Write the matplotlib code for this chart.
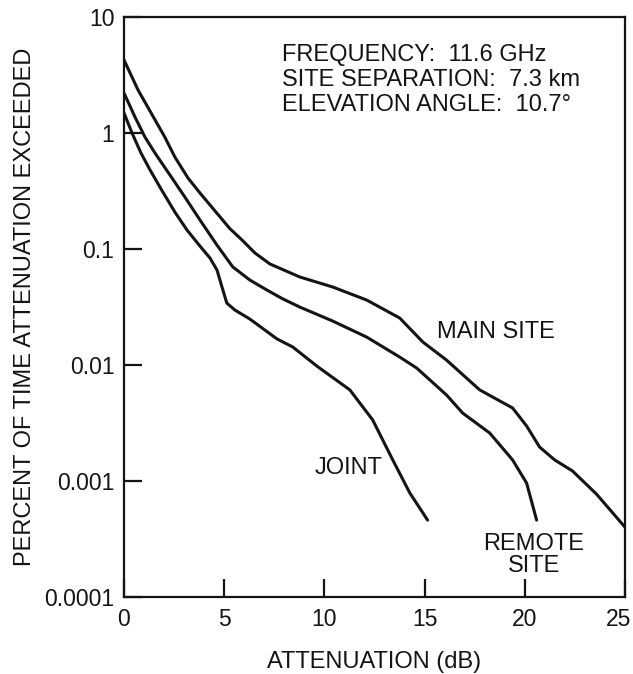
import matplotlib
matplotlib.use("Agg")
import matplotlib.pyplot as plt
import matplotlib.transforms as mtransforms

plt.rcParams['font.family'] = ['Liberation Sans', 'DejaVu Sans']

# Attenuation (dB) and percent of time that attenuation is exceeded
main_db = [0.0, 0.70, 1.35, 2.04, 2.54, 3.19, 3.79, 4.54, 5.28, 5.88, 6.53, 7.28,
           8.77, 10.42, 12.11, 13.76, 14.91, 16.10, 17.75, 19.39, 20.09, 20.74,
           21.49, 22.38, 23.58, 25.0]
main_pct = [4.26, 2.35, 1.49, 0.92, 0.62, 0.41, 0.304, 0.213, 0.150, 0.120, 0.0925,
            0.0743, 0.0574, 0.047, 0.0363, 0.0254, 0.0158, 0.0110, 0.0061, 0.00426,
            0.00298, 0.00196, 0.00152, 0.00122, 0.00077, 0.0004]

remote_db = [0.0, 0.55, 1.05, 1.55, 2.29, 3.04, 3.79, 4.64, 5.43, 6.28, 7.13, 7.93,
             8.77, 10.42, 12.11, 13.76, 14.61, 16.10, 16.90, 18.25, 19.39, 20.09, 20.59]
remote_pct = [2.21, 1.37, 0.92, 0.67, 0.435, 0.28, 0.178, 0.108, 0.070, 0.054, 0.0443,
              0.0371, 0.0316, 0.0239, 0.0174, 0.0117, 0.0094, 0.0055, 0.00385,
              0.00259, 0.00152, 0.00096, 0.00046]

joint_db = [0.0, 0.40, 0.85, 1.30, 1.89, 2.54, 3.14, 3.79, 4.29, 4.64, 4.89, 5.13,
            5.53, 6.28, 7.63, 8.42, 9.62, 11.27, 12.41, 13.41, 14.26, 15.15]
joint_pct = [1.49, 1.0, 0.67, 0.48, 0.32, 0.208, 0.146, 0.106, 0.0836, 0.0659, 0.047,
             0.0342, 0.0298, 0.0249, 0.0168, 0.0143, 0.0098, 0.0061, 0.00336, 0.00152,
             0.00079, 0.00046]

x_ticks = [0, 5, 10, 15, 20, 25]
x_tick_labels = ["0", "5", "10", "15", "20", "25"]
y_ticks = [10, 1, 0.1, 0.01, 0.001, 0.0001]
y_tick_labels = ["10", "1", "0.1", "0.01", "0.001", "0.0001"]

info_lines = ["FREQUENCY:  11.6 GHz", "SITE SEPARATION:  7.3 km", "ELEVATION ANGLE:  10.7°"]

W, H = 633, 674
fig = plt.figure(figsize=(W / 100, H / 100), dpi=100)
ax = fig.add_axes([124 / W, 1 - 597 / H, (625 - 124) / W, (597 - 17) / H])

ink = "#141414"
for xs, ys in ((main_db, main_pct), (remote_db, remote_pct), (joint_db, joint_pct)):
    ax.plot(xs, ys, color=ink, lw=2.2, solid_joinstyle="round", solid_capstyle="round")

ax.set_yscale("log")
ax.set_xlim(0, 25)
ax.set_ylim(0.0001, 10)
ax.set_xticks(x_ticks, x_tick_labels)
ax.set_yticks(y_ticks, y_tick_labels)
ax.minorticks_off()
ax.tick_params(axis="both", direction="in", length=13, width=1.6, color=ink,
               labelsize=16.5, labelcolor=ink)
ax.tick_params(axis="y", pad=7)
ax.tick_params(axis="x", pad=8)
for s in ax.spines.values():
    s.set_linewidth(1.6)
    s.set_color(ink)

# keep the last x label inside the figure edge
last = ax.get_xticklabels()[-1]
last.set_horizontalalignment("right")
last.set_transform(last.get_transform() +
                   mtransforms.ScaledTranslation(6 / 100, 0, fig.dpi_scale_trans))

ax.set_xlabel("ATTENUATION (dB)", fontsize=17, color=ink, labelpad=14)
ax.set_ylabel("PERCENT OF TIME ATTENUATION EXCEEDED", fontsize=17, color=ink, labelpad=6)

for i, line in enumerate(info_lines):
    ax.text(0.315, 0.953 - i * 0.0431, line, transform=ax.transAxes, fontsize=17,
            color=ink, ha="left", va="top")

ax.text(15.6, 0.0192, "MAIN SITE", fontsize=17, color=ink, ha="left", va="center")
ax.text(9.5, 0.00129, "JOINT", fontsize=17, color=ink, ha="left", va="center")
ax.text(20.45, 0.00023, "REMOTE\nSITE", fontsize=17, color=ink, ha="center",
        va="center", linespacing=1.0)

fig.savefig("out.png", dpi=100)
